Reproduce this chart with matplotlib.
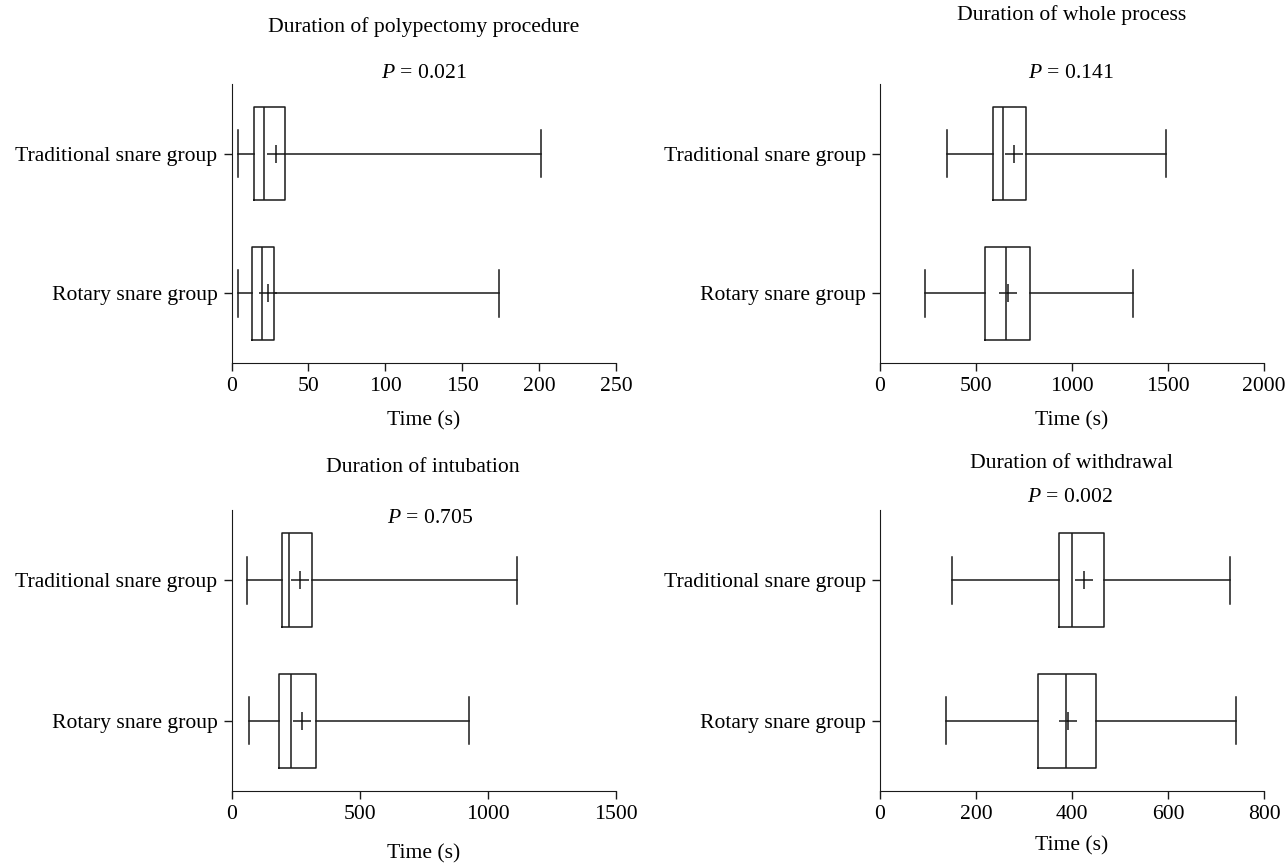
import matplotlib
matplotlib.use("Agg")
import matplotlib.pyplot as plt

plt.rcParams['font.family'] = ['Liberation Serif', 'DejaVu Serif']
plt.rcParams['mathtext.fontset'] = 'custom'
plt.rcParams['mathtext.rm'] = 'Liberation Serif'
plt.rcParams['mathtext.it'] = 'Liberation Serif:italic'

groups = ['Traditional snare group', 'Rotary snare group']
titles = ['Duration of polypectomy procedure', 'Duration of whole process',
          'Duration of intubation', 'Duration of withdrawal']
pvalues = ['0.021', '0.141', '0.705', '0.002']
xmax = [250, 2000, 1500, 800]
xstep = [50, 500, 500, 200]

# whisker low, q1, median, q3, whisker high, mean  (traditional, rotary)
polyp_trad = [4.5, 14.7, 21, 34.7, 201, 29]
polyp_rot = [4, 13.2, 20, 27.5, 174, 24]
whole_trad = [348, 587, 641, 759, 1488, 696]
whole_rot = [235, 545, 655, 783, 1319, 668]
intub_trad = [61, 197, 226, 314, 1113, 269]
intub_rot = [69, 186, 234, 330, 927, 275]
withd_trad = [151, 372, 400, 467, 729, 424]
withd_rot = [138, 330, 387, 450, 742, 392]

data = [(polyp_trad, polyp_rot), (whole_trad, whole_rot),
        (intub_trad, intub_rot), (withd_trad, withd_rot)]

W, H = 1286, 863
fig = plt.figure(figsize=(W / 100, H / 100), dpi=100)

# axes boxes in pixels: left, right, top, bottom
boxes = [(231.5, 616, 84, 363), (880, 1264, 84, 363),
         (231.5, 616, 510, 791), (880, 1264, 510, 791)]
title_pos = [(424, 27), (1072, 15), (423, 467), (1072, 463)]
p_pos = [(424, 73), (1071, 73), (430, 518), (1070, 498)]
label_pad = [11, 11, 15, 9]

fs = 15.6
lc = '#1a1a1a'

def stat(v):
    return dict(whislo=v[0], q1=v[1], med=v[2], q3=v[3], whishi=v[4],
                mean=v[5], fliers=[])

for i in range(4):
    l, r, t, b = boxes[i]
    ax = fig.add_axes([l / W, 1 - b / H, (r - l) / W, (b - t) / H])
    trad, rot = data[i]
    ax.bxp([stat(rot), stat(trad)], positions=[1, 2], widths=0.67,
           orientation='horizontal', showmeans=True, capwidths=0.335,
           boxprops=dict(color=lc, lw=1.1),
           medianprops=dict(color=lc, lw=1.1),
           whiskerprops=dict(color=lc, lw=1.1),
           capprops=dict(color=lc, lw=1.1),
           meanprops=dict(marker='+', markersize=13.5, markeredgecolor=lc,
                          markeredgewidth=1.1))
    ax.set_ylim(0.5, 2.5)
    ax.set_xlim(0, xmax[i])
    ax.set_xticks(range(0, xmax[i] + 1, xstep[i]))
    ax.set_yticks([2, 1])
    ax.set_yticklabels(groups)
    ax.spines['top'].set_visible(False)
    ax.spines['right'].set_visible(False)
    ax.spines['left'].set_color(lc)
    ax.spines['bottom'].set_color(lc)
    ax.tick_params(labelsize=fs, length=6, width=1, color=lc, pad=4)
    ax.set_xlabel('Time (s)', fontsize=fs, labelpad=label_pad[i])
    fig.text(title_pos[i][0] / W, 1 - title_pos[i][1] / H, titles[i],
             ha='center', va='center', fontsize=fs)
    fig.text(p_pos[i][0] / W, 1 - p_pos[i][1] / H, '$P$ = ' + pvalues[i],
             ha='center', va='center', fontsize=fs)

fig.savefig('out.png', dpi=100)
